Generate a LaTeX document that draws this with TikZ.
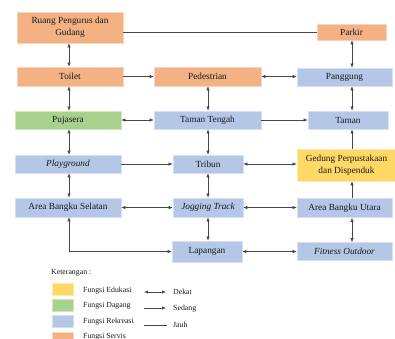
\documentclass[tikz,border=0pt]{standalone}
\usepackage{fontspec}
\setmainfont{Liberation Serif}
\usetikzlibrary{arrows.meta}
\definecolor{cOr}{HTML}{F4B183}
\definecolor{cGr}{HTML}{A9D18E}
\definecolor{cBl}{HTML}{B4C7E7}
\definecolor{cYe}{HTML}{FFD966}
\begin{document}
\begin{tikzpicture}[x=1pt,y=-1pt,
  box/.style={rectangle, inner sep=0pt, align=center, font=\fontsize{9.3}{11.5}\selectfont, text=black!90, line width=0.6pt},
  orb/.style={box, fill=cOr, draw=cOr!55!white},
  grb/.style={box, fill=cGr, draw=cGr!55!white},
  blb/.style={box, fill=cBl, draw=cBl!55!white},
  yeb/.style={box, fill=cYe, draw=cYe!55!white},
  lf/.style={anchor=west, inner sep=0pt, font=\fontsize{7.8}{9}\selectfont, text=black!90},
  con/.style={draw=black!72, line width=0.55pt},
  dbl/.style={con, {Latex[length=4pt,width=3.4pt]}-{Latex[length=4pt,width=3.4pt]}},
  sgl/.style={con, -{Latex[length=4pt,width=3.4pt]}}
]
\useasboundingbox (0,0) rectangle (395,338);
\coordinate (cL) at (69,0);
\coordinate (cM) at (208,0);
\coordinate (cR) at (352,0);
% left column
\node[orb, minimum width=106pt, minimum height=31pt] (ruang) at (70,27.5) {Ruang Pengurus dan\\Gudang};
\node[orb, minimum width=106pt, minimum height=19pt] (toilet) at (70,76.5) {Toilet};
\node[grb, minimum width=106pt, minimum height=18pt] (puja) at (68,120) {Pujasera};
\node[blb, minimum width=106pt, minimum height=18pt] (play) at (68,164) {\itshape Playground};
\node[blb, minimum width=106pt, minimum height=19pt] (abs) at (68,207.5) {Area Bangku Selatan};
% middle column
\node[orb, minimum width=107pt, minimum height=19pt] (pedes) at (207.5,76.5) {Pedestrian};
\node[blb, minimum width=107pt, minimum height=18pt] (tt) at (207.5,120) {Taman Tengah};
\node[blb, minimum width=70pt, minimum height=18pt] (tribun) at (208,164) {Tribun};
\node[blb, minimum width=70pt, minimum height=19pt] (jt) at (208,207.5) {\itshape Jogging Track};
\node[blb, minimum width=70pt, minimum height=21pt] (lap) at (207,251.5) {Lapangan};
% right column
\node[orb, minimum width=69pt, minimum height=16pt] (parkir) at (351.5,32) {Parkir};
\node[blb, minimum width=95pt, minimum height=18pt] (pang) at (344.5,77) {Panggung};
\node[blb, minimum width=80pt, minimum height=18pt] (taman) at (348,120) {Taman};
\node[yeb, minimum width=99pt, minimum height=32pt, font=\fontsize{9.3}{12.4}\selectfont] (ged) at (346.5,165) {Gedung Perpustakaan\\dan Dispenduk};
\node[blb, minimum width=95pt, minimum height=19pt] (abu) at (344.5,208) {Area Bangku Utara};
\node[blb, minimum width=95pt, minimum height=18pt] (fit) at (344.5,251.5) {\itshape Fitness Outdoor};
% connectors
\draw[con] (parkir.west) -- (parkir.west -| ruang.east);
\draw[dbl] (ruang.south -| cL) -- (toilet.north -| cL);
\draw[sgl] (toilet.east) -- (pedes.west);
\draw[dbl] (pedes.east) -- (pedes.east -| pang.west);
\draw[dbl] (parkir.south -| cR) -- (pang.north -| cR);
\draw[dbl] (toilet.south -| cL) -- (puja.north -| cL);
\draw[dbl] (pedes.south -| cM) -- (tt.north -| cM);
\draw[dbl] (pang.south -| cR) -- (taman.north -| cR);
\draw[dbl] (puja.east) -- (tt.west);
\draw[sgl] (tt.east) -- (taman.west);
\draw[dbl] (puja.south -| cL) -- (play.north -| cL);
\draw[dbl] (tt.south -| cM) -- (tribun.north -| cM);
\draw[sgl] (ged.north -| cR) -- (taman.south -| cR);
\draw[sgl] (play.east) -- (tribun.west);
\draw[dbl] (tribun.east) -- (tribun.east -| ged.west);
\draw[dbl] (play.south -| cL) -- (abs.north -| cL);
\draw[dbl] (tribun.south -| cM) -- (jt.north -| cM);
\draw[sgl] (abu.north -| cR) -- (ged.south -| cR);
\draw[dbl] (abs.east) -- (jt.west);
\draw[dbl] (jt.east) -- (jt.east -| abu.west);
\draw[dbl] (abs.south -| cL) |- (lap.west);
\draw[dbl] (jt.south -| cM) -- (lap.north -| cM);
\draw[dbl] (abu.south -| cR) -- (fit.north -| cR);
\draw[dbl] (lap.east) -- (lap.east -| fit.west);
% legend
\node[lf] (ket) at (51,273) {Keterangan :};
\node[yeb, minimum width=21pt, minimum height=12pt] (s1) at (62.5,289) {};
\node[grb, minimum width=21pt, minimum height=12pt] (s2) at (62.5,305) {};
\node[blb, minimum width=21pt, minimum height=12pt] (s3) at (62.5,321) {};
\node[orb, minimum width=21pt, minimum height=12pt] (s4) at (62.5,338) {};
\node[lf] (l1) at (83,290.5) {Fungsi Edukasi};
\node[lf] (l2) at (83,305.5) {Fungsi Dagang};
\node[lf] (l3) at (83,321.5) {Fungsi Rekreasi};
\node[lf] (l4) at (83,336.5) {Fungsi Servis};
\node[lf] (dekat) at (173,292) {Dekat};
\node[lf] (sedang) at (173,308.5) {Sedang};
\node[lf] (jauh) at (173,325) {Jauh};
\coordinate (d1) at (144,292);
\coordinate (d2) at (166,292);
\coordinate (e1) at (144,308);
\coordinate (e2) at (166,308);
\coordinate (f1) at (144,325);
\coordinate (f2) at (167,325);
\draw[dbl] (d1) -- (d2);
\draw[sgl] (e1) -- (e2);
\draw[con] (f1) -- (f2);
\end{tikzpicture}
\end{document}
